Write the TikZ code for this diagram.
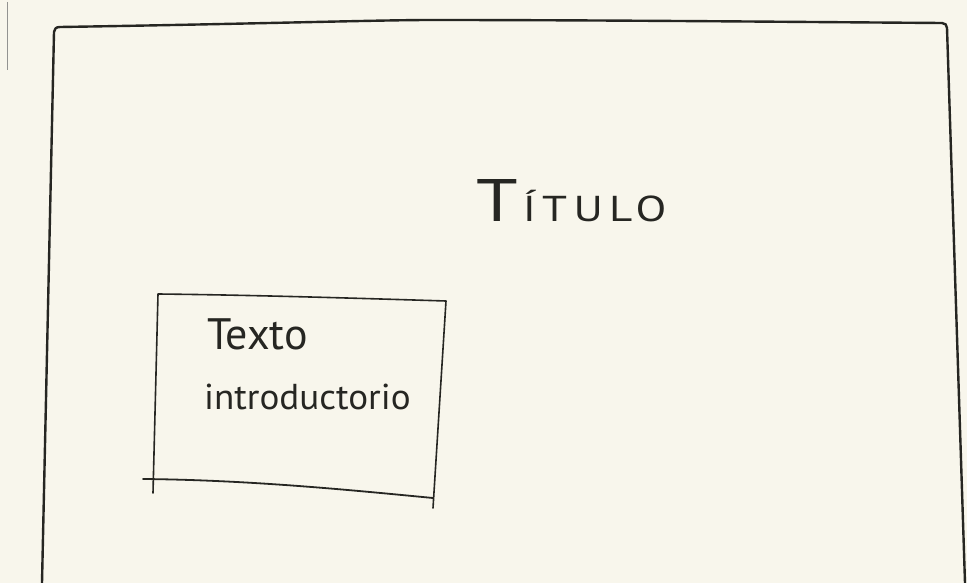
\documentclass[tikz,border=0pt]{standalone}
\usepackage{fontspec}
\setmainfont{PT Sans}
\definecolor{paper}{RGB}{248,246,236}
\definecolor{ink}{RGB}{38,38,34}
\begin{document}
\begin{tikzpicture}[x=1pt,y=-1pt,
  inkline/.style={draw=ink, line width=2pt, line cap=round, line join=round},
  hand/.style={text=ink, inner sep=0pt, anchor=base west}]
\fill[paper] (0,0) rectangle (967,583);
\useasboundingbox (0,0) rectangle (967,583);
% paper edge
\draw[ink!50, line width=1pt] (7,2) -- (7,70);
% page frame
\draw[inkline, line width=2.4pt] (42,583) -- (54,32) .. controls (54,29) and (56,27) .. (60,27)
  .. controls (250,24) and (380,20) .. (430,20)
  .. controls (600,20) and (800,22) .. (942,23) .. controls (945,23) and (947,25) .. (947,28)
  -- (965,583);
% text box
\draw[inkline, line width=1.6pt] (153,493) -- (158,294) .. controls (250,295) and (350,298) .. (446,301) -- (433,508);
\draw[inkline, line width=1.8pt] (143,479) .. controls (250,480) and (350,490) .. (433,498);
% title
\node[hand, xscale=1.25] (title) at (476,222)
  {{\fontsize{60}{60}\selectfont T}\hspace{4pt}{\fontsize{36}{36}\selectfont\addfontfeature{LetterSpace=14}ÍTULO}};
% intro text
\node[hand, font=\fontsize{44}{44}\selectfont] (texto) at (207,349) {Texto};
\node[hand, font=\fontsize{36}{36}\selectfont, xscale=1.03] (intro) at (204,409) {introductorio};
\end{tikzpicture}
\end{document}
